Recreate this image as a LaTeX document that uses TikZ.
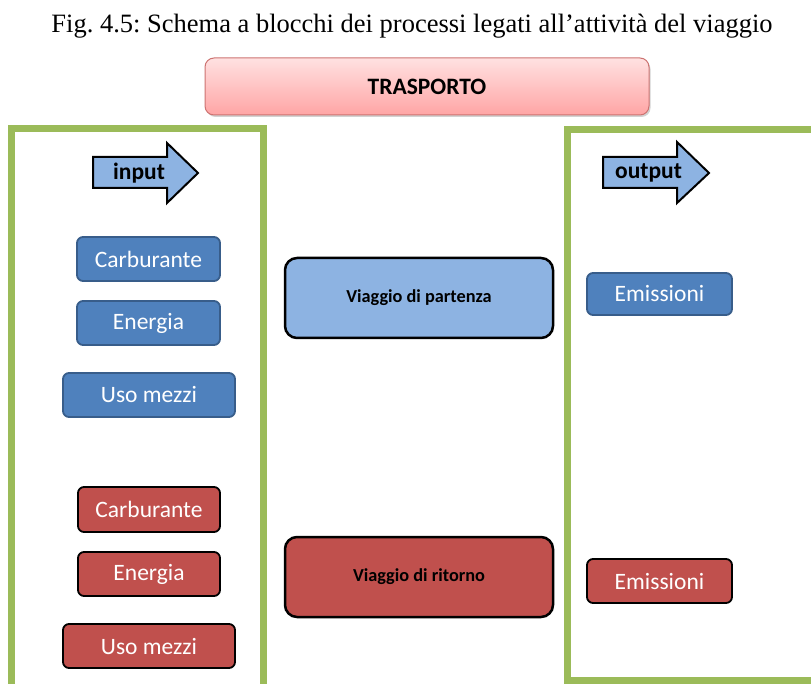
\documentclass[tikz,border=0pt]{standalone}
\usepackage{fontspec}
\setmainfont{Liberation Serif}
\newfontfamily\calib{Carlito}
\usetikzlibrary{shadows}
\frenchspacing

\definecolor{panelgreen}{HTML}{9BBB59}
\definecolor{boxblue}{HTML}{4F81BD}
\definecolor{boxblueedge}{HTML}{385D8A}
\definecolor{lightblue}{HTML}{8DB3E2}
\definecolor{boxred}{HTML}{C0504D}
\definecolor{pinktop}{HTML}{FFE1E1}
\definecolor{pinkbot}{HTML}{FFA5A5}

\tikzset{
  panel/.style={draw=panelgreen, line width=7pt},
  inbox/.style={rounded corners=6pt, line width=1.8pt, inner sep=0pt,
    font=\calib\fontsize{23.5}{27}\selectfont, text=white},
  bluebox/.style={inbox, fill=boxblue, draw=boxblueedge},
  redbox/.style={inbox, fill=boxred, draw=black},
  tripbox/.style={rounded corners=12pt, draw=black, line width=2.5pt, inner sep=0pt,
    minimum width=268pt, minimum height=80pt,
    font=\calib\bfseries\fontsize{18.3}{22}\selectfont},
  flowarrow/.style={fill=lightblue, draw=black, line width=2pt, line join=miter},
  arrowlabel/.style={font=\calib\bfseries\fontsize{23.5}{27}\selectfont, inner sep=0pt}
}

\begin{document}
\begin{tikzpicture}[x=1pt, y=-1pt]
  \useasboundingbox (0,0) rectangle (811,684);
  \fill[white] (0,0) rectangle (811,684);

  % caption
  \node (caption) at (412,26) {\fontsize{26.5}{30}\selectfont Fig. 4.5: Schema a blocchi dei processi legati all’attività del viaggio};

  % header block
  \node[rounded corners=9pt, draw=boxred!80, line width=1pt,
        top color=pinktop, bottom color=pinkbot,
        drop shadow={shadow xshift=1.5pt, shadow yshift=-2pt, opacity=0.35},
        minimum width=444pt, minimum height=57pt, inner sep=0pt,
        font=\calib\bfseries\fontsize{23.5}{27}\selectfont]
    (trasporto) at (427,86.5) {TRASPORTO};

  % input and output panels (open where they leave the page)
  \begin{scope}
    \clip (0,0) rectangle (811,684);
    \draw[panel] (11.5,700) -- (11.5,128.5) -- (263,128.5) -- (263,700);
    \draw[panel] (830,680.5) -- (567,680.5) -- (567,129.5) -- (830,129.5);
  \end{scope}

  % input arrow
  \draw[flowarrow] (93,157) -- (167,157) -- (167,143) -- (198,173)
    -- (167,203) -- (167,188) -- (93,188) -- cycle;
  \node[arrowlabel] (inlabel) at (139,173) {input};

  % output arrow
  \draw[flowarrow] (603,157) -- (677,157) -- (677,142) -- (709,173)
    -- (677,203) -- (677,188) -- (603,188) -- cycle;
  \node[arrowlabel] (outlabel) at (648.5,173) {output};

  % outbound trip
  \node[bluebox, minimum width=143pt, minimum height=44pt] (carb1) at (148.5,259) {Carburante};
  \node[bluebox, minimum width=143pt, minimum height=44pt] (ener1) at (148.5,323) {Energia};
  \node[bluebox, minimum width=172pt, minimum height=44pt] (uso1)  at (149,395) {Uso mezzi};
  \node[tripbox, fill=lightblue] (partenza) at (419,298) {Viaggio di partenza};
  \node[bluebox, minimum width=145pt, minimum height=42pt] (emis1) at (659.5,294) {Emissioni};

  % return trip
  \node[redbox, minimum width=142pt, minimum height=45pt] (carb2) at (149,509.5) {Carburante};
  \node[redbox, minimum width=142pt, minimum height=44pt] (ener2) at (149,574) {Energia};
  \node[redbox, minimum width=172pt, minimum height=44pt] (uso2)  at (149,646) {Uso mezzi};
  \node[tripbox, fill=boxred] (ritorno) at (419,577) {Viaggio di ritorno};
  \node[redbox, minimum width=145pt, minimum height=44pt] (emis2) at (659.5,581) {Emissioni};
\end{tikzpicture}
\end{document}
